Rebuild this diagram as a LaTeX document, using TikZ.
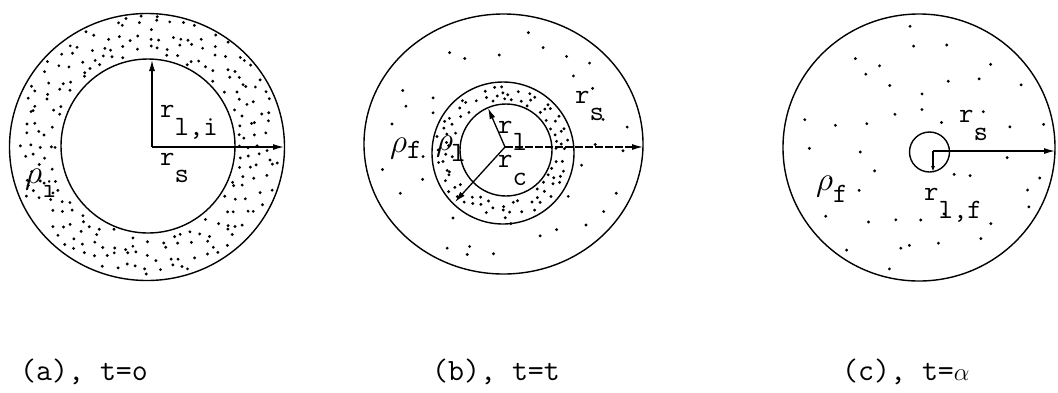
\documentclass[tikz,border=0pt]{standalone}
\usepackage{fontspec}
\usepackage{graphicx}
\usetikzlibrary{arrows.meta}
% jittered-grid stipple: cx cy r1 r2 spacing yscale halfcount
\newcommand\mygrain[7]{%
  \foreach \i in {-#7,...,#7}{%
    \foreach \j in {-#7,...,#7}{%
      \pgfmathsetmacro\dx{(\i+0.45*rand)*#5}%
      \pgfmathsetmacro\dy{(\j+0.45*rand)*#5}%
      \pgfmathsetmacro\dd{100*sqrt((\dx/100)^2+(\dy/(100*#6))^2)}%
      \pgfmathtruncatemacro\ok{and(\dd>#3,\dd<#4)}%
      \ifnum\ok=1
        \pgfmathsetmacro\px{#1+\dx}%
        \pgfmathsetmacro\py{#2+\dy}%
        \fill (\px,\py) circle (1.6pt);
      \fi
    }}}
\newcommand\bigrho{\scalebox{1.35}{$\rho$}}
\begin{document}
\begin{tikzpicture}[x=1pt,y=-1pt,
  rim/.style={line width=1.4pt},
  vec/.style={line width=1.3pt,-{Latex[length=11pt,width=6pt]}},
  smallvec/.style={line width=1.3pt,-{Latex[length=6pt,width=4pt]}},
  lab/.style={inner sep=0pt,anchor=base west,font=\ttfamily\addfontfeatures{FakeBold=1}\fontsize{28}{28}\selectfont},
  captext/.style={inner sep=0pt,anchor=base west,font=\ttfamily\addfontfeatures{FakeBold=0.6}\fontsize{31}{31}\selectfont}]
\useasboundingbox[fill=white] (0,0) rectangle (1058,392);
\pgfmathsetseed{4711}
% ---------- (a) ----------
\draw[rim] (147,147) ellipse [x radius=137.5pt, y radius=133.5pt];
\draw[rim] (148,146) circle (87pt);
\mygrain{148}{146}{91}{133}{11}{0.98}{13}
\coordinate (oa) at (152,147);
\coordinate (ta1) at (152,60);
\coordinate (ta2) at (284,147);
\draw[vec] (oa) -- (ta1);
\draw[vec] (oa) -- (ta2);
\node[lab] (rla) at (160,117) {r\raisebox{-18pt}{l,i}};
\node[lab] (rsa) at (160,165) {r\raisebox{-17pt}{s}};
\node[lab] (rhoa) at (25,183) {\bigrho\raisebox{-14pt}{i}};
% ---------- (b) ----------
\draw[rim] (503.5,144) ellipse [x radius=139.5pt, y radius=130pt];
\draw[rim] (503,153) circle (71pt);
\draw[rim] (506,150) circle (46pt);
\mygrain{503}{152}{50}{68}{8.5}{1}{9}
\mygrain{503}{146}{77}{127}{30}{0.93}{5}
\coordinate (ob) at (505,147);
\coordinate (tb1) at (488,108);
\coordinate (tb2) at (455,202);
\coordinate (tb3) at (643,147);
\draw[vec] (ob) -- (tb1);
\draw[vec] (ob) -- (tb2);
\draw[vec, dash pattern=on 8pt off 2pt] (ob) -- (tb3);
\node[lab] (rsb) at (575,103) {r\raisebox{-17pt}{s}};
\node[lab] (rlb) at (498,133) {r\raisebox{-17pt}{l}};
\node[lab] (rcb) at (498,167) {r\raisebox{-18pt}{c}};
\node[lab] (rhofb) at (390,152) {\bigrho\raisebox{-6pt}{f}};
\node[lab] (rholb) at (436,150) {\bigrho\kern-2pt\raisebox{-11pt}{l}};
% ---------- (c) ----------
\draw[rim] (919,147.5) ellipse [x radius=136pt, y radius=133.5pt];
\draw[rim] (929.5,152) circle (20pt);
\mygrain{919}{148}{30}{127}{32}{0.98}{4}
\coordinate (oc) at (933,151);
\coordinate (tc1) at (1055,151);
\coordinate (tc2) at (933,172);
\draw[vec] (oc) -- (tc1);
\draw[smallvec] (oc) -- (tc2);
\node[lab] (rsc) at (959,122) {r\raisebox{-18pt}{s}};
\node[lab] (rlc) at (924,200) {r\raisebox{-18pt}{l,f}};
\node[lab] (rhoc) at (816,190) {\bigrho\raisebox{-12pt}{f}};
% ---------- captions ----------
\node[captext] (capa) at (20,380) {(a), t=o};
\node[captext] (capb) at (432,380) {(b), t=t};
\node[captext] (capc) at (842,380) {(c), t=$\alpha$};
\end{tikzpicture}
\end{document}
